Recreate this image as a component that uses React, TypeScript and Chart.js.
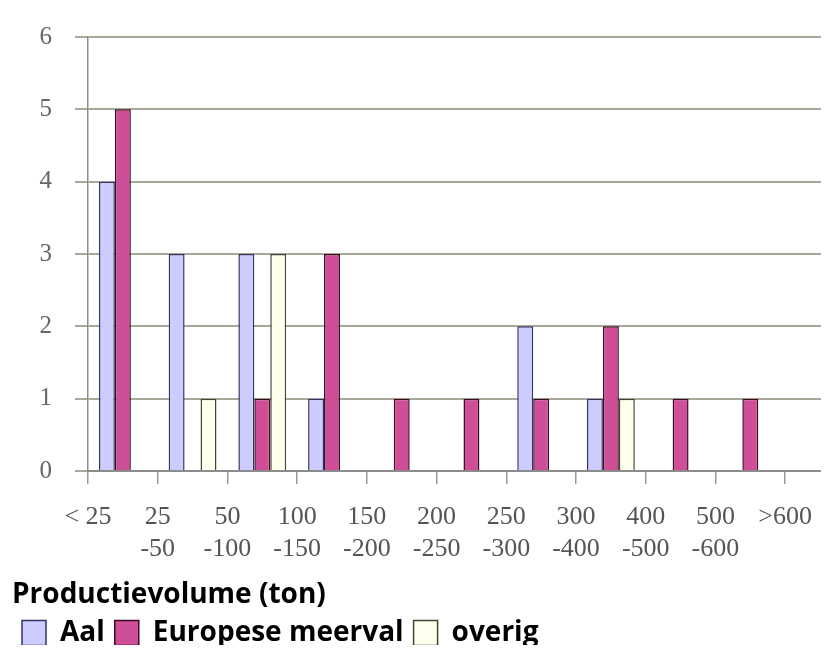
import { useEffect, useRef } from "react";
import { Chart, registerables } from "chart.js";

Chart.register(...registerables);

// Tick labels sit on the category boundaries, as in the reference
const categories: string[][] = [
  ["< 25"],
  ["25", "-50"],
  ["50", "-100"],
  ["100", "-150"],
  ["150", "-200"],
  ["200", "-250"],
  ["250", "-300"],
  ["300", "-400"],
  ["400", "-500"],
  ["500", "-600"],
  [">600"],
];
const aal = [4, 3, 3, 1, 0, 0, 2, 1, 0, 0, 0];
const meerval = [5, 0, 1, 3, 1, 1, 1, 2, 1, 1, 0];
const overig = [0, 1, 3, 0, 0, 0, 0, 1, 0, 0, 0];
const seriesNames = ["Aal", "Europese meerval", "overig"];
const yMax = 6;
const visibleCategoryCount = 10.6; // the reference is cropped inside the last category
const xAxisTitle = "Productievolume (ton)";

const toPoints = (vals: number[]) => vals.map((v, i) => ({ x: i + 0.5, y: v }));

export default function App() {
  const ref = useRef<HTMLCanvasElement | null>(null);
  useEffect(() => {
    if (!ref.current) return;
    const barCommon = { borderWidth: 1.5, categoryPercentage: 0.686, barPercentage: 1 };
    const chart = new Chart(ref.current, {
      type: "bar",
      data: {
        datasets: [
          {
            label: seriesNames[0],
            data: toPoints(aal),
            backgroundColor: "#CCCCFF",
            borderColor: "#333366",
            ...barCommon,
          },
          {
            label: seriesNames[1],
            data: toPoints(meerval),
            backgroundColor: "#CE4F98",
            borderColor: "#3a0a22",
            ...barCommon,
          },
          {
            label: seriesNames[2],
            data: toPoints(overig),
            backgroundColor: "#FFFFEE",
            borderColor: "#444433",
            ...barCommon,
          },
        ] as any,
      },
      options: {
        animation: false,
        responsive: true,
        maintainAspectRatio: false,
        layout: { padding: { left: 4, top: 29, right: 0, bottom: 0 } },
        scales: {
          x: {
            type: "linear",
            min: 0,
            max: visibleCategoryCount,
            offset: false,
            afterBuildTicks: (scale: any) => {
              scale.ticks = categories.map((_, i) => ({ value: i }));
            },
            afterFit: (scale: any) => {
              scale.height = 91;
            },
            ticks: {
              autoSkip: false,
              maxRotation: 0,
              padding: 18,
              color: "#555555",
              font: { family: "'Liberation Serif', serif", size: 26, lineHeight: 1.2 },
              callback: (_v: any, i: number) => categories[i],
            },
            grid: {
              display: true,
              offset: false,
              drawOnChartArea: false,
              drawTicks: true,
              tickLength: 13,
              color: "#9a9a9a",
              lineWidth: 1.5,
            },
            border: { display: true, color: "#8c8c8c", width: 2 },
          },
          y: {
            min: 0,
            max: yMax,
            afterFit: (scale: any) => {
              scale.width = 76;
              scale.paddingTop = 0;
              scale.paddingBottom = 0;
            },
            ticks: {
              stepSize: 1,
              padding: 23,
              color: "#666666",
              font: { family: "'Liberation Serif', serif", size: 25 },
            },
            grid: {
              color: "#a8a898",
              lineWidth: 2,
              tickLength: 13,
              drawTicks: true,
            },
            border: { display: true, color: "#8c8c8c", width: 1.5 },
          },
        },
        plugins: {
          tooltip: { enabled: false },
          title: {
            display: true,
            text: xAxisTitle,
            position: "bottom",
            align: "start",
            weight: 500,
            color: "#000000",
            font: { family: "'Open Sans'", weight: "bold", size: 28, lineHeight: 1.0 },
            padding: { top: 19, bottom: 0 },
          },
          legend: {
            display: true,
            position: "bottom",
            align: "start",
            labels: {
              boxWidth: 24,
              boxHeight: 25,
              padding: 10,
              color: "#000000",
              font: { family: "'Open Sans'", weight: "bold", size: 28 },
            },
          },
        },
      } as any,
    });
    return () => chart.destroy();
  }, []);
  return (
    <div style={{ width: 821, height: 637, overflow: "hidden" }}>
      <div style={{ position: "relative", width: 822, height: 649 }}>
        <canvas ref={ref} />
      </div>
    </div>
  );
}
